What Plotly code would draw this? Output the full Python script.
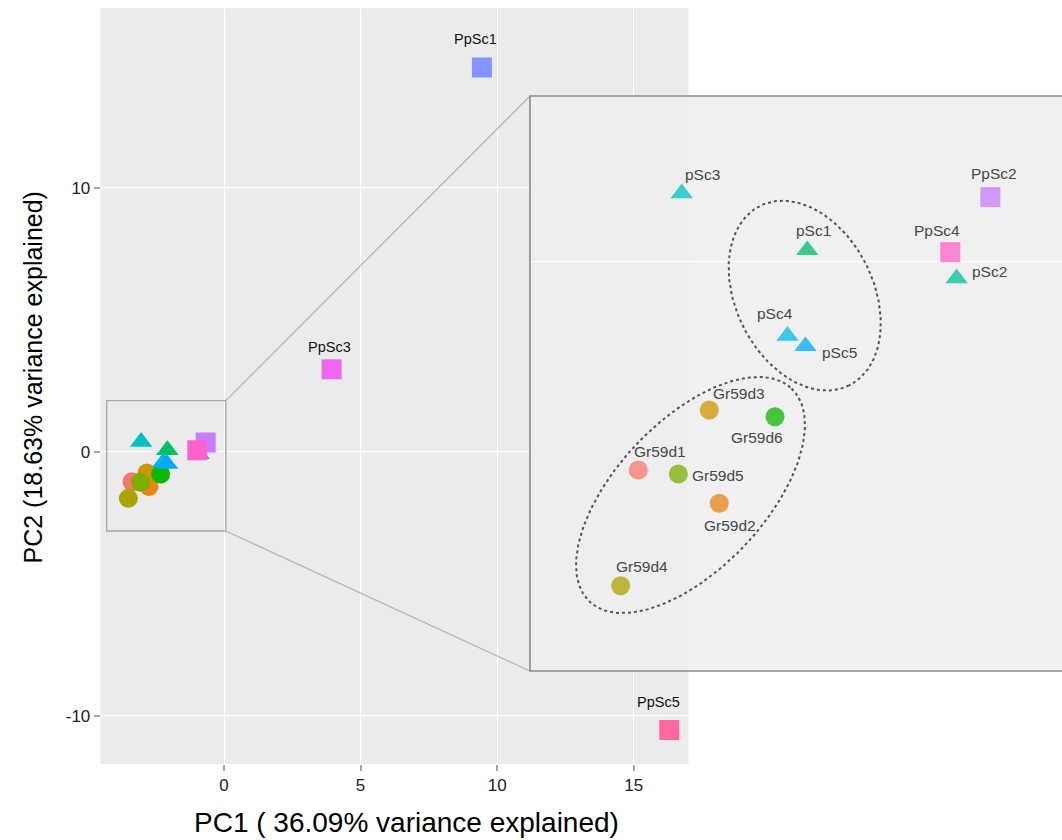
import numpy as np
import plotly.graph_objects as go

# ---------------- data ----------------
samples = ["Gr59d1", "Gr59d2", "Gr59d3", "Gr59d4", "Gr59d5", "Gr59d6",
           "pSc1", "pSc2", "pSc3", "pSc4", "pSc5",
           "PpSc1", "PpSc2", "PpSc3", "PpSc4", "PpSc5"]
groups = ["Gr59"] * 6 + ["pSc"] * 5 + ["PpSc"] * 5
pc1 = [-3.366, -2.746, -2.822, -3.501, -3.059, -2.319,
       -2.072, -0.929, -3.033, -2.223, -2.086,
       9.44, -0.670, 3.94, -0.977, 16.30]
pc2 = [-1.137, -1.318, -0.810, -1.768, -1.159, -0.846,
       0.062, -0.092, 0.372, -0.405, -0.462,
       14.55, 0.351, 3.12, 0.051, -10.54]
x_title = "PC1 ( 36.09% variance explained)"
y_title = "PC2 (18.63% variance explained)"
x_ticks = [0, 5, 10, 15]
x_ticktext = ["0", "5", "10", "15"]
y_ticks = [-10, 0, 10]
y_ticktext = ["-10", "0", "10"]

# ---------------- styles ----------------
colors = ["#F8766D", "#E68613", "#CD9600", "#ABA300", "#7CAE00", "#0CB702",
          "#00BE67", "#00C19A", "#00BFC4", "#00B8E7", "#00A9FF",
          "#8494FF", "#C77CFF", "#ED68ED", "#FF61CC", "#FF68A1"]
symbol_map = {"Gr59": "circle", "pSc": "triangle-up", "PpSc": "square"}
size_map = {"Gr59": 19, "pSc": 19.5, "PpSc": 20}
symbols = [symbol_map[g] for g in groups]
sizes = [size_map[g] for g in groups]

# label offsets in pixels (dx right, dy down) relative to the point
main_labels = {"PpSc1": (-6, -29), "PpSc3": (-2, -22), "PpSc5": (-11, -28)}
inset_labels = {
    "pSc3": (21, -19), "PpSc2": (4, -24), "pSc1": (6, -20), "PpSc4": (-13, -22),
    "pSc2": (33, -7), "pSc4": (-13, -22), "pSc5": (34, 6),
    "Gr59d3": (30, -17), "Gr59d6": (-18, 21), "Gr59d1": (22, -19),
    "Gr59d5": (40, 1), "Gr59d2": (11, 22), "Gr59d4": (21, -19),
}

FONT = "Liberation Sans, Arial, sans-serif"
W, H = 1062, 840
# main panel (px)
L, R, T, B = 100.7, 688.3, 8.3, 764.0
xr_main = [-4.513, 16.995]
yr_main = [-11.83, 16.795]
# inset panel (px)
L2, R2, T2, B2 = 530.0, 1062.0, 96.0, 671.0
xr_in = [-4.195, -0.1215]
yr_in = [-2.2328, 0.9024]


def px_to_inset(px, py):
    x = xr_in[0] + (np.asarray(px) - L2) / (R2 - L2) * (xr_in[1] - xr_in[0])
    y = yr_in[1] - (np.asarray(py) - T2) / (B2 - T2) * (yr_in[1] - yr_in[0])
    return x, y


def ellipse_px(cx, cy, a, b, theta_deg, n=200):
    t = np.linspace(0, 2 * np.pi, n)
    th = np.deg2rad(theta_deg)
    ex = cx + a * np.cos(th) * np.cos(t) - b * np.sin(th) * np.sin(t)
    ey = cy + a * np.sin(th) * np.cos(t) + b * np.cos(th) * np.sin(t)
    return ex, ey


ellipses = [(690.5, 495.0, 146.8, 74.1, -46.5), (804.7, 295.6, 100.2, 68.9, 63.7)]

fig = go.Figure()

# main scatter
fig.add_trace(go.Scatter(
    x=pc1, y=pc2, mode="markers", text=samples, hoverinfo="text",
    marker=dict(symbol=symbols, color=colors, size=sizes, line=dict(width=0),
                opacity=1),
    xaxis="x", yaxis="y", cliponaxis=True))

# inset ellipses
for (cx, cy, a, b, th) in ellipses:
    ex, ey = ellipse_px(cx, cy, a, b, th)
    xx, yy = px_to_inset(ex, ey)
    fig.add_trace(go.Scatter(
        x=xx, y=yy, mode="lines", hoverinfo="skip",
        line=dict(color="#555555", width=2, dash="dot"),
        xaxis="x2", yaxis="y2"))

# inset scatter
fig.add_trace(go.Scatter(
    x=pc1, y=pc2, mode="markers", text=samples, hoverinfo="text",
    marker=dict(symbol=symbols, color=colors, size=sizes, line=dict(width=0),
                opacity=0.75),
    xaxis="x2", yaxis="y2"))

annotations = []
for s, x, y in zip(samples, pc1, pc2):
    if s in main_labels:
        dx, dy = main_labels[s]
        annotations.append(dict(x=x, y=y, xref="x", yref="y", text=s, showarrow=False,
                                xshift=dx, yshift=-dy,
                                font=dict(family=FONT, size=14.5, color="#111111")))
    if s in inset_labels:
        dx, dy = inset_labels[s]
        annotations.append(dict(x=x, y=y, xref="x2", yref="y2", text=s, showarrow=False,
                                xshift=dx, yshift=-dy,
                                font=dict(family=FONT, size=15.5, color="#474747")))

annotations.append(dict(x=406.7 / W, y=1 - 822 / H, xref="paper", yref="paper",
                        text=x_title, showarrow=False, xanchor="center", yanchor="middle",
                        font=dict(family=FONT, size=28, color="#000000")))
annotations.append(dict(x=32.5 / W, y=1 - 378 / H, xref="paper", yref="paper",
                        text=y_title, showarrow=False, textangle=-90,
                        xanchor="center", yanchor="middle",
                        font=dict(family=FONT, size=25, color="#000000")))


def pxr(x0, y0, x1, y1):
    return dict(x0=x0 / W, x1=x1 / W, y0=1 - y0 / H, y1=1 - y1 / H, xref="paper", yref="paper")


shapes = [
    dict(type="rect", fillcolor="#EBEBEB", line=dict(width=0), layer="below", **pxr(L, T, R, B)),
    dict(type="rect", fillcolor="rgba(0,0,0,0)", line=dict(color="#A8A8A8", width=1.3),
         layer="above", **pxr(106.7, 400.7, 225.7, 531.0)),
    dict(type="line", line=dict(color="#B4B4B4", width=1.2), layer="above",
         **pxr(225.7, 400.7, L2, T2)),
    dict(type="line", line=dict(color="#B4B4B4", width=1.2), layer="above",
         **pxr(225.7, 531.0, L2, B2)),
    dict(type="rect", fillcolor="rgba(0,0,0,0)", line=dict(color="#8A8A8A", width=1.6),
         layer="above", **pxr(L2, T2, R2 + 10, B2)),
]

axis_common = dict(showgrid=True, gridcolor="#FFFFFF", gridwidth=1.3, zeroline=False,
                   showline=False)
fig.update_layout(
    width=W, height=840, margin=dict(l=0, r=0, t=0, b=0),
    paper_bgcolor="white", plot_bgcolor="rgba(238,238,238,0.88)",
    showlegend=False,
    xaxis=dict(domain=[L / W, R / W], range=xr_main, tickvals=x_ticks, ticktext=x_ticktext,
               ticks="outside", ticklen=6, tickwidth=1.5, tickcolor="#A6A6A6",
               tickfont=dict(family=FONT, size=17, color="#222222"), anchor="y",
               **axis_common),
    yaxis=dict(domain=[1 - B / H, 1 - T / H], range=yr_main, tickvals=y_ticks,
               ticktext=y_ticktext,
               ticks="outside", ticklen=6, tickwidth=1.5, tickcolor="#A6A6A6",
               tickfont=dict(family=FONT, size=17, color="#222222"), anchor="x",
               **axis_common),
    xaxis2=dict(domain=[L2 / W, R2 / W], range=xr_in, dtick=5, tick0=0,
                showticklabels=False, ticks="", anchor="y2", **axis_common),
    yaxis2=dict(domain=[1 - B2 / H, 1 - T2 / H], range=yr_in, dtick=10, tick0=0,
                showticklabels=False, ticks="", anchor="x2", **axis_common),
    annotations=annotations, shapes=shapes,
)

fig.write_html("out.html")
